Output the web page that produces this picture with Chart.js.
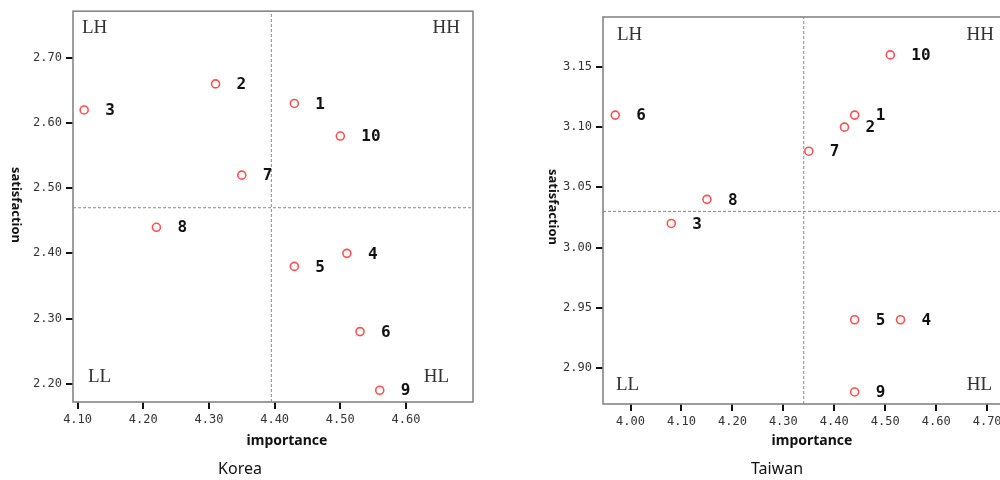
<!DOCTYPE html>
<html lang="en">
<head>
<meta charset="utf-8">
<title>Importance - satisfaction: Korea / Taiwan</title>
<script src="https://cdn.jsdelivr.net/npm/chart.js@4.4.1/dist/chart.umd.min.js"></script>
<style>
  html, body { margin: 0; padding: 0; background: #fff; width: 1000px; height: 480px; overflow: hidden; position: relative; }
  canvas { position: absolute; top: 0; }
  #grafikKorea { left: 0; }
  #grafikTaiwan { left: 500px; }
  .teks { position: absolute; font-family: "Noto Sans", sans-serif; color: #111; white-space: nowrap; transform: translate(-50%, -50%); }
  .judul-x { font-size: 14px; font-weight: bold; }
  .judul-y { font-size: 13px; font-weight: bold; transform: translate(-50%, -50%) rotate(90deg); }
  .keterangan { font-size: 16px; }
</style>
</head>
<body>
<canvas id="grafikKorea" width="500" height="480"></canvas>
<canvas id="grafikTaiwan" width="540" height="480"></canvas>

<div class="teks judul-x" style="left:287px;top:439px">importance</div>
<div class="teks judul-y" style="left:17px;top:205px">satisfaction</div>
<div class="teks keterangan" style="left:240px;top:468px">Korea</div>

<div class="teks judul-x" style="left:812px;top:439px">importance</div>
<div class="teks judul-y" style="left:554px;top:207px">satisfaction</div>
<div class="teks keterangan" style="left:777px;top:468px">Taiwan</div>

<script>
// ── Data ─────────────────────────────────────────────────────────
const nomorItem = ['1', '2', '3', '4', '5', '6', '7', '8', '9', '10'];

const koreaImportance   = [4.43, 4.31, 4.11, 4.51, 4.43, 4.53, 4.35, 4.22, 4.56, 4.50];
const koreaSatisfaction = [2.63, 2.66, 2.62, 2.40, 2.38, 2.28, 2.52, 2.44, 2.19, 2.58];
const koreaGarisX = 4.395;   // batas kuadran (rata-rata importance)
const koreaGarisY = 2.47;    // batas kuadran (rata-rata satisfaction)
const koreaTickX = [4.10, 4.20, 4.30, 4.40, 4.50, 4.60];
const koreaTickY = [2.20, 2.30, 2.40, 2.50, 2.60, 2.70];

const taiwanImportance   = [4.44, 4.42, 4.08, 4.53, 4.44, 3.97, 4.35, 4.15, 4.44, 4.51];
const taiwanSatisfaction = [3.11, 3.10, 3.02, 2.94, 2.94, 3.11, 3.08, 3.04, 2.88, 3.16];
const taiwanGarisX = 4.34;
const taiwanGarisY = 3.03;
const taiwanTickX = [4.00, 4.10, 4.20, 4.30, 4.40, 4.50, 4.60, 4.70];
const taiwanTickY = [2.90, 2.95, 3.00, 3.05, 3.10, 3.15];

const namaKuadran = ['LH', 'HH', 'LL', 'HL'];

// ── Plugin: bingkai abu-abu di sekeliling area plot ──────────────
const bingkai = {
    id: 'bingkai',
    afterDatasetsDraw(chart) {
        const a = chart.chartArea, ctx = chart.ctx;
        ctx.save();
        ctx.strokeStyle = '#858585';
        ctx.lineWidth = 1.6;
        ctx.strokeRect(a.left, a.top, a.right - a.left, a.bottom - a.top);
        ctx.restore();
    }
};

// ── Plugin: nomor item di samping titik ──────────────────────────
const labelTitik = {
    id: 'labelTitik',
    afterDatasetsDraw(chart) {
        const meta = chart.getDatasetMeta(0), ctx = chart.ctx;
        ctx.save();
        ctx.font = 'bold 16px "DejaVu Sans Mono"';
        ctx.fillStyle = '#111';
        ctx.textAlign = 'left';
        ctx.textBaseline = 'middle';
        meta.data.forEach(function (el, i) { ctx.fillText(nomorItem[i], el.x + 21, el.y + 1); });
        ctx.restore();
    }
};

// ── Plugin: nama kuadran (LH, HH, LL, HL) ────────────────────────
const labelKuadran = {
    id: 'labelKuadran',
    afterDatasetsDraw(chart, args, opts) {
        const a = chart.chartArea, ctx = chart.ctx, p = opts.posisi;
        ctx.save();
        ctx.font = '19px "Liberation Serif"';
        ctx.fillStyle = '#333';
        ctx.textBaseline = 'middle';
        ctx.textAlign = 'left';
        ctx.fillText(namaKuadran[0], a.left + p.lh[0], a.top + p.lh[1]);
        ctx.fillText(namaKuadran[2], a.left + p.ll[0], a.bottom - p.ll[1]);
        ctx.textAlign = 'right';
        ctx.fillText(namaKuadran[1], a.right - p.hh[0], a.top + p.hh[1]);
        ctx.fillText(namaKuadran[3], a.right - p.hl[0], a.bottom - p.hl[1]);
        ctx.restore();
    }
};

function garisPutus(titik) {
    return {
        data: titik, showLine: true, pointRadius: 0, borderColor: '#8a8a8a',
        borderWidth: 1, borderDash: [3, 2], fill: false, order: 2
    };
}

function sumbu(min, max, daftarTick, fitFn) {
    return {
        type: 'linear', min: min, max: max,
        afterBuildTicks: function (s) { s.ticks = daftarTick.map(function (v) { return { value: v }; }); },
        afterFit: fitFn,
        border: { display: false },
        grid: { drawOnChartArea: false, drawTicks: true, tickLength: 7, tickWidth: 2, tickColor: '#111', lineWidth: 2 },
        ticks: {
            autoSkip: false, maxRotation: 0, padding: 4, color: '#333',
            font: { family: 'DejaVu Sans Mono', size: 12 },
            callback: function (v) { return v.toFixed(2); }
        }
    };
}

function buatGrafik(id, c) {
    const titik = c.imp.map(function (v, i) { return { x: v, y: c.sat[i] }; });
    return new Chart(document.getElementById(id).getContext('2d'), {
        type: 'scatter',
        data: {
            datasets: [
                {
                    data: titik, pointRadius: 4, pointHoverRadius: 4, pointBorderWidth: 1.6,
                    borderColor: '#ff5050', backgroundColor: '#ffffff', order: 0
                },
                garisPutus([{ x: c.garisX, y: c.yMin }, { x: c.garisX, y: c.yMax }]),
                garisPutus([{ x: c.xMin, y: c.garisY }, { x: c.xMax, y: c.garisY }])
            ]
        },
        options: {
            responsive: false, animation: false, devicePixelRatio: 1,
            layout: { padding: c.padding },
            plugins: {
                legend: { display: false }, tooltip: { enabled: false },
                labelKuadran: { posisi: c.kuadran }
            },
            scales: {
                x: sumbu(c.xMin, c.xMax, c.tickX, function (s) { s.height = 30; }),
                y: sumbu(c.yMin, c.yMax, c.tickY, function (s) { s.width = c.lebarY; })
            }
        },
        plugins: [bingkai, labelTitik, labelKuadran]
    });
}

// ── Grafik Korea ─────────────────────────────────────────────────
buatGrafik('grafikKorea', {
    imp: koreaImportance, sat: koreaSatisfaction,
    garisX: koreaGarisX, garisY: koreaGarisY,
    tickX: koreaTickX, tickY: koreaTickY,
    xMin: 4.093, xMax: 4.702, yMin: 2.172, yMax: 2.7715,
    lebarY: 73,
    padding: { left: 0, top: 10, right: 27, bottom: 48 },
    kuadran: { lh: [9, 17], hh: [13, 17], ll: [15, 25], hl: [24, 25] }
});

// ── Grafik Taiwan (bingkai kanan terpotong oleh tepi gambar) ─────
buatGrafik('grafikTaiwan', {
    imp: taiwanImportance, sat: taiwanSatisfaction,
    garisX: taiwanGarisX, garisY: taiwanGarisY,
    tickX: taiwanTickX, tickY: taiwanTickY,
    xMin: 3.946, xMax: 4.739, yMin: 2.870, yMax: 3.1915,
    lebarY: 103,
    padding: { left: 0, top: 17, right: 33, bottom: 46 },
    kuadran: { lh: [14, 18], hh: [13, 18], ll: [13, 19], hl: [15, 19] }
});
</script>
</body>
</html>
